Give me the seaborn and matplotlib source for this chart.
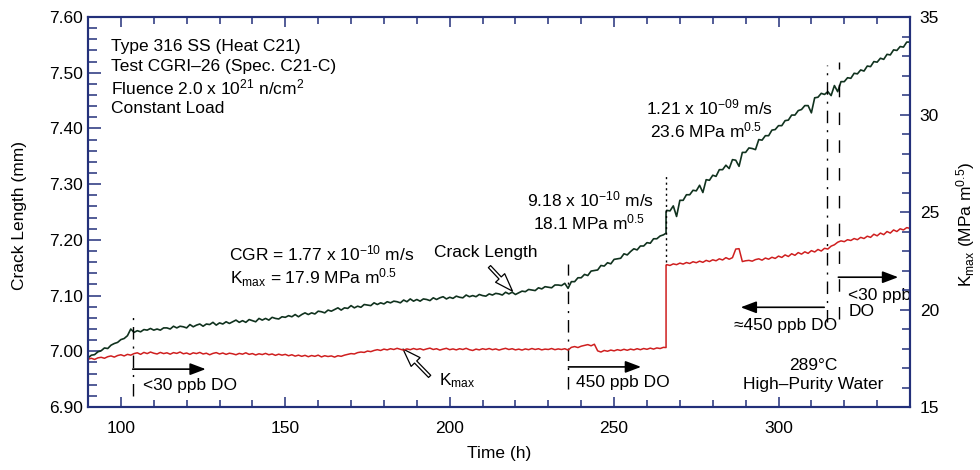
import numpy as np
import matplotlib
matplotlib.use("Agg")
import matplotlib.pyplot as plt
from matplotlib.ticker import MultipleLocator, FormatStrFormatter
import seaborn as sns

# ---------------------------------------------------------------- data ---
# hourly readings before and after the load step at 265.8 h
hours_pre = np.arange(90, 266)
hours_post = np.arange(266, 341)
step_hour = 265.8

# crack length (mm)
crack_pre = [
    6.988, 6.993, 6.994, 6.999, 7.001, 7.006, 7.005, 7.011, 7.014, 7.016,
    7.021, 7.023, 7.028, 7.040, 7.034,
    7.037, 7.035, 7.039, 7.038, 7.041, 7.038, 7.040, 7.038, 7.042, 7.042,
    7.040, 7.045, 7.042, 7.045, 7.044, 7.042, 7.048, 7.044, 7.047, 7.049,
    7.045, 7.049, 7.048, 7.052, 7.047, 7.051, 7.049, 7.053, 7.050, 7.053,
    7.056, 7.052, 7.055, 7.052, 7.057, 7.055, 7.053, 7.059, 7.056, 7.059,
    7.056, 7.061, 7.059, 7.058, 7.062, 7.061,
    7.064, 7.062, 7.066, 7.062, 7.066, 7.069, 7.066, 7.069, 7.067, 7.072,
    7.071, 7.069, 7.074, 7.072, 7.075, 7.078, 7.074, 7.078, 7.077, 7.082,
    7.078, 7.081, 7.079, 7.084, 7.083, 7.082, 7.087, 7.084, 7.087, 7.085,
    7.089, 7.087, 7.090, 7.089, 7.087, 7.092, 7.089, 7.094, 7.090, 7.093,
    7.090, 7.094, 7.093, 7.091, 7.096, 7.093, 7.096, 7.098, 7.094, 7.097,
    7.095, 7.099, 7.097, 7.096, 7.101, 7.098, 7.100, 7.098, 7.102, 7.100,
    7.099, 7.103, 7.101, 7.104, 7.103, 7.101, 7.106, 7.103, 7.106, 7.102,
    7.105, 7.108, 7.107, 7.111, 7.110, 7.109, 7.114, 7.112, 7.116, 7.115,
    7.114, 7.119, 7.119, 7.118, 7.122, 7.113,
    7.125, 7.125, 7.132, 7.132, 7.138, 7.136, 7.144, 7.145, 7.146, 7.154,
    7.153, 7.159, 7.157, 7.165, 7.166, 7.167, 7.175, 7.173, 7.179, 7.184,
    7.182, 7.189, 7.189, 7.195, 7.194, 7.202, 7.202, 7.207, 7.209,
]
crack_step = [7.212, 7.250]
crack_post = [
    7.253, 7.252, 7.261, 7.242, 7.271, 7.271, 7.281, 7.281, 7.289, 7.288,
    7.298, 7.285, 7.308, 7.307, 7.316, 7.314, 7.326, 7.326, 7.334, 7.328,
    7.344, 7.343, 7.332, 7.357, 7.357, 7.365, 7.364, 7.362, 7.380, 7.379,
    7.387, 7.387, 7.397, 7.398, 7.405, 7.405, 7.414, 7.415, 7.424, 7.424,
    7.432, 7.434, 7.441, 7.441, 7.428, 7.455, 7.456, 7.463, 7.461, 7.466,
    7.459, 7.477, 7.466, 7.484, 7.484, 7.491, 7.490, 7.499, 7.498, 7.505,
    7.503, 7.512, 7.511, 7.520, 7.519, 7.526, 7.524, 7.533, 7.532, 7.541,
    7.540, 7.547, 7.546, 7.555, 7.555,
]

# maximum stress intensity (MPa m^0.5)
kmax_pre = [
    17.45, 17.50, 17.44, 17.52, 17.55, 17.50, 17.58, 17.62, 17.56, 17.64,
    17.68, 17.62, 17.70, 17.66, 17.74, 17.78, 17.70, 17.80, 17.74, 17.82,
    17.76, 17.72, 17.80, 17.74, 17.78, 17.71, 17.79, 17.75, 17.82, 17.73,
    17.77, 17.70, 17.78, 17.74, 17.80, 17.72, 17.76, 17.68, 17.75, 17.79,
    17.72, 17.77, 17.70, 17.76, 17.73, 17.68, 17.75, 17.71, 17.78, 17.70,
    17.74, 17.67, 17.73, 17.69, 17.75, 17.68, 17.72, 17.65, 17.71, 17.66,
    17.70, 17.63, 17.68, 17.61, 17.66, 17.60, 17.65, 17.58, 17.64, 17.60,
    17.66, 17.57, 17.63, 17.59, 17.62, 17.56, 17.63, 17.60, 17.66, 17.70,
    17.74, 17.72, 17.79, 17.82, 17.80, 17.87, 17.84, 17.90, 17.94, 17.90,
    17.97, 17.93, 17.99, 17.95, 18.01, 17.96, 17.92, 17.98, 17.94, 18.00,
    17.95, 17.99, 17.93, 17.98, 18.02, 17.95, 17.99, 17.92, 17.97, 18.01,
    17.94, 17.98, 17.93, 17.99, 17.95, 18.01, 17.94, 17.90, 17.97, 17.93,
    17.99, 17.95, 18.00, 17.94, 17.98, 17.92, 17.97, 18.01, 17.95, 17.99,
    17.93, 17.97, 17.92, 17.98, 17.94, 18.00, 17.95, 17.99, 17.93, 17.97,
    17.95, 18.00, 17.94, 17.98, 17.95, 17.99, 17.92, 18.06, 18.10, 18.05,
    18.12, 18.16, 18.20, 18.14, 18.22, 17.88, 17.82, 17.90, 17.86, 17.92,
    17.88, 17.94, 17.90, 17.96, 17.91, 17.97, 17.93, 17.99, 17.94, 18.00,
    17.96, 18.02, 17.97, 18.03, 18.00, 18.06,
]
kmax_step = [18.05, 22.28]
kmax_post = [
    22.30, 22.26, 22.34, 22.30, 22.38, 22.33, 22.41, 22.36, 22.45, 22.40,
    22.48, 22.42, 22.52, 22.46, 22.55, 22.50, 22.60, 22.54, 22.66, 22.58,
    22.66, 23.10, 23.12, 22.46, 22.50, 22.52, 22.48, 22.56, 22.60, 22.53,
    22.64, 22.58, 22.68, 22.62, 22.74, 22.67, 22.80, 22.72, 22.86, 22.78,
    22.92, 22.84, 22.96, 22.88, 23.02, 22.95, 23.08, 23.00, 23.14, 23.10,
    23.25, 23.32, 23.45, 23.52, 23.48, 23.58, 23.54, 23.64, 23.58, 23.70,
    23.64, 23.76, 23.70, 23.86, 23.78, 23.92, 23.84, 24.00, 23.92, 24.08,
    24.00, 24.14, 24.08, 24.20, 24.16,
]

# water-chemistry change markers: hour, lower / upper crack-length extent, style
event_hours = [103.6, 236.1, 265.8, 314.9, 318.5]
event_low = [6.920, 6.932, 7.160, 7.052, 7.058]
event_high = [7.066, 7.156, 7.317, 7.514, 7.520]
event_kind = ["dashdot", "dashdot", "dotted", "dashdot", "dashed"]

assert len(crack_pre) == len(hours_pre) == len(kmax_pre)
assert len(crack_post) == len(hours_post) == len(kmax_post)

hours = np.concatenate([hours_pre, [step_hour, step_hour], hours_post])
crack = np.concatenate([crack_pre, crack_step, crack_post])
kmax = np.concatenate([kmax_pre, kmax_step, kmax_post])

# --------------------------------------------------------------- style ---
sns.set_style("ticks")
plt.rcParams["font.family"] = ["Liberation Sans", "DejaVu Sans"]
plt.rcParams["mathtext.fontset"] = "custom"
plt.rcParams["mathtext.rm"] = "Liberation Sans"
plt.rcParams["mathtext.it"] = "Liberation Sans:italic"
plt.rcParams["mathtext.bf"] = "Liberation Sans:bold"
plt.rcParams["mathtext.default"] = "regular"
plt.rcParams["text.color"] = "black"
plt.rcParams["axes.labelcolor"] = "black"
plt.rcParams["xtick.labelcolor"] = "black"
plt.rcParams["ytick.labelcolor"] = "black"

NAVY = "#23307a"
CRACK_COLOR = "#10321e"
KMAX_COLOR = "#cf1f1f"
FS = 12.5

fig = plt.figure(figsize=(9.8, 4.7), dpi=100)
ax = fig.add_axes([0.0898, 0.134, 0.8388, 0.8298])
ax2 = ax.twinx()

sns.lineplot(x=hours, y=crack, ax=ax, sort=False, estimator=None,
             color=CRACK_COLOR, linewidth=1.2)
sns.lineplot(x=hours, y=kmax, ax=ax2, sort=False, estimator=None,
             color=KMAX_COLOR, linewidth=1.1)

ax.set_xlim(90, 340)
ax.set_ylim(6.90, 7.60)
ax2.set_ylim(15, 35)

# axes, ticks and spines
ax.xaxis.set_major_locator(MultipleLocator(50))
ax.xaxis.set_minor_locator(MultipleLocator(10))
ax.yaxis.set_major_locator(MultipleLocator(0.1))
ax.yaxis.set_minor_locator(MultipleLocator(0.02))
ax.yaxis.set_major_formatter(FormatStrFormatter("%.2f"))
ax2.yaxis.set_major_locator(MultipleLocator(5))
ax2.yaxis.set_minor_locator(MultipleLocator(1))

ax.tick_params(axis="x", which="both", direction="in", top=True, bottom=True,
               color=NAVY, labelcolor="black", width=1.1, labelsize=FS, pad=10)
ax.tick_params(axis="x", which="major", length=7)
ax.tick_params(axis="x", which="minor", length=5)
ax.tick_params(axis="y", which="both", direction="in", left=True, right=False,
               color=NAVY, labelcolor="black", width=1.1, labelsize=FS, pad=3.6)
ax.tick_params(axis="y", which="major", length=9)
ax.tick_params(axis="y", which="minor", length=6.5)
ax2.tick_params(axis="y", which="both", direction="in", right=True, left=False,
                color=NAVY, labelcolor="black", width=1.1, labelsize=FS, pad=7)
ax2.tick_params(axis="y", which="major", length=7.5)
ax2.tick_params(axis="y", which="minor", length=5.5)

for a in (ax, ax2):
    for sp in a.spines.values():
        sp.set_visible(True)
        sp.set_color(NAVY)
        sp.set_linewidth(1.5)

ax.set_xlabel("Time (h)", fontsize=FS, color="black")
ax.xaxis.set_label_coords(0.5, -0.10)
ax.set_ylabel("Crack Length (mm)", fontsize=FS, color="black")
ax.yaxis.set_label_coords(-0.083, 0.49)
ax.yaxis.label.set_va("center")
ax2.set_ylabel(r"K$_{max}$ (MPa m$^{0.5}$)", fontsize=FS, color="black")
ax2.yaxis.set_label_coords(1.067, 0.467)
ax2.yaxis.label.set_va("center")

# environment change markers
dash_styles = {
    "dashdot": (0, (9, 5, 1.5, 5)),
    "dashed": (0, (9, 11)),
    "dotted": (0, (1.5, 2.5)),
}
for h, lo, hi, kind in zip(event_hours, event_low, event_high, event_kind):
    ax.vlines(h, lo, hi, colors="black", linewidth=1.0,
              linestyles=[dash_styles[kind]], zorder=3)

# specimen description
info_lines = [
    (7.539, "Type 316 SS (Heat C21)"),
    (7.503, "Test CGRI–26 (Spec. C21-C)"),
    (7.462, r"Fluence 2.0 x 10$^{21}$ n/cm$^{2}$"),
    (7.428, "Constant Load"),
]
for yv, s in info_lines:
    ax.text(97.0, yv, s, fontsize=FS, ha="left", va="baseline")

# growth-rate annotations
ax.text(161.2, 7.163, r"CGR = 1.77 x 10$^{-10}$ m/s", fontsize=FS,
        ha="center", va="baseline")
ax.text(158.5, 7.121, r"K$_{max}$ = 17.9 MPa m$^{0.5}$", fontsize=FS,
        ha="center", va="baseline")
ax.text(242.7, 7.260, r"9.18 x 10$^{-10}$ m/s", fontsize=FS,
        ha="center", va="baseline")
ax.text(242.4, 7.218, r"18.1 MPa m$^{0.5}$", fontsize=FS,
        ha="center", va="baseline")
ax.text(279.1, 7.425, r"1.21 x 10$^{-09}$ m/s", fontsize=FS,
        ha="center", va="baseline")
ax.text(277.9, 7.384, r"23.6 MPa m$^{0.5}$", fontsize=FS,
        ha="center", va="baseline")

# curve callouts with open arrows
open_arrow = dict(arrowstyle="simple,head_length=1.3,head_width=0.9,tail_width=0.22",
                  fc="white", ec="black", lw=0.9, mutation_scale=10,
                  shrinkA=0, shrinkB=0)
ax.text(210.9, 7.178, "Crack Length", fontsize=FS, ha="center", va="center")
ax.annotate("", xy=(219.1, 7.108), xytext=(212.1, 7.152), arrowprops=open_arrow)
ax.text(202.4, 6.948, r"K$_{max}$", fontsize=FS, ha="center", va="center")
ax.annotate("", xy=(185.8, 7.004), xytext=(193.9, 6.955), arrowprops=open_arrow)

# dissolved-oxygen periods
solid_arrow = dict(arrowstyle="-|>,head_length=0.95,head_width=0.36",
                   color="black", lw=1.2, mutation_scale=10,
                   shrinkA=0, shrinkB=0)
ax.annotate("", xy=(125.8, 6.968), xytext=(103.6, 6.968), arrowprops=solid_arrow)
ax.text(106.7, 6.931, "<30 ppb DO", fontsize=FS, ha="left", va="baseline")
ax.annotate("", xy=(258.2, 6.972), xytext=(236.1, 6.972), arrowprops=solid_arrow)
ax.text(238.5, 6.936, "450 ppb DO", fontsize=FS, ha="left", va="baseline")
ax.annotate("", xy=(288.5, 7.079), xytext=(313.9, 7.079), arrowprops=solid_arrow)
ax.text(286.4, 7.038, "≈450 ppb DO", fontsize=FS, ha="left", va="baseline")
ax.annotate("", xy=(336.4, 7.133), xytext=(318.2, 7.133), arrowprops=solid_arrow)
ax.text(321.2, 7.092, "<30 ppb", fontsize=FS, ha="left", va="baseline")
ax.text(321.2, 7.063, "DO", fontsize=FS, ha="left", va="baseline")

# test environment
ax.text(310.6, 6.967, "289°C", fontsize=FS, ha="center", va="baseline")
ax.text(310.6, 6.932, "High–Purity Water", fontsize=FS, ha="center", va="baseline")

fig.savefig("out.png", dpi=100)
